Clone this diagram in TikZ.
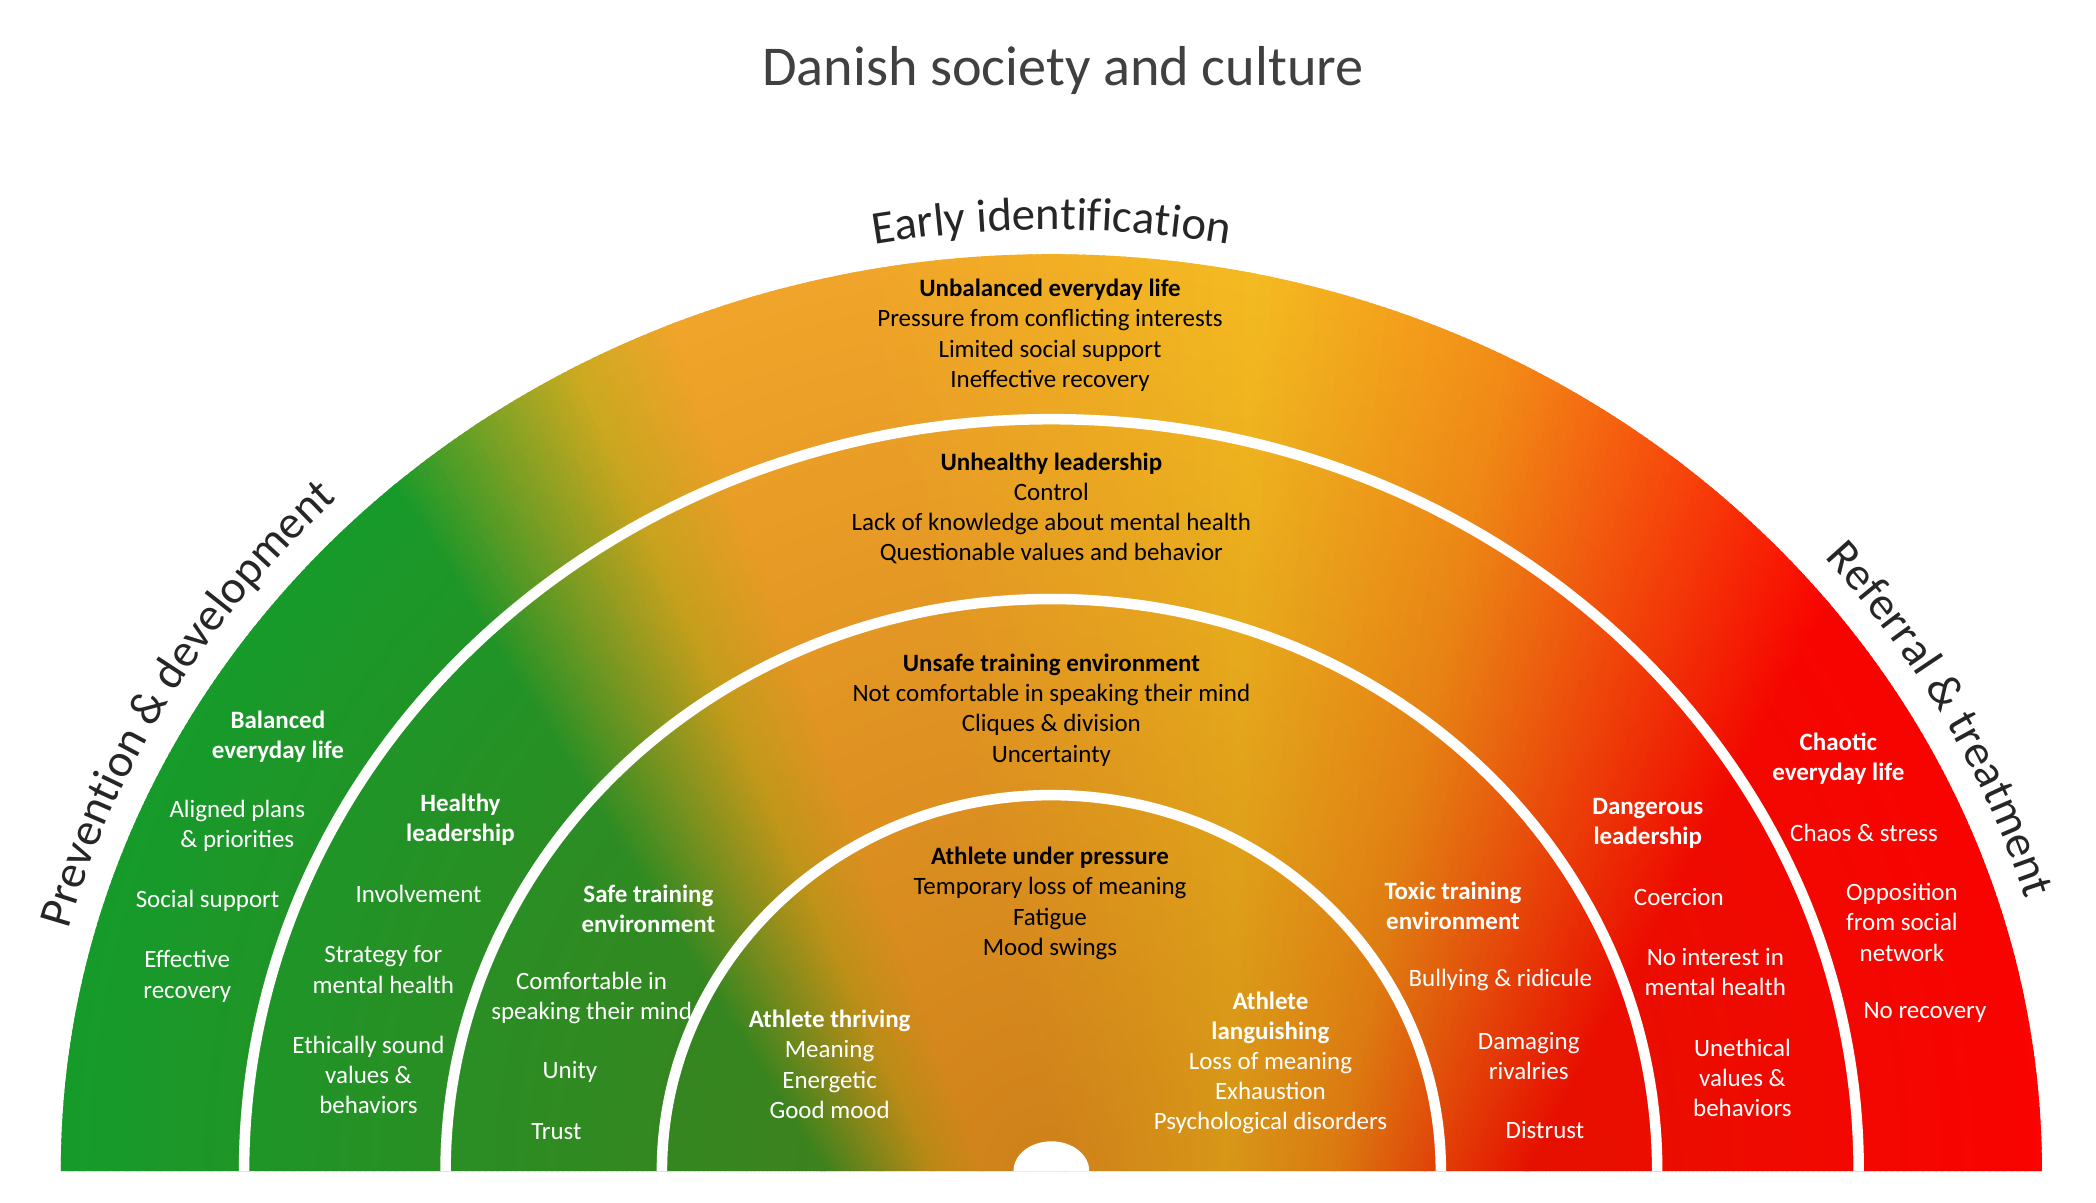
\documentclass[tikz,border=0pt]{standalone}
\usepackage{fontspec}
\setmainfont{Carlito}
\usetikzlibrary{decorations.text, fadings}
\definecolor{cgreen}{RGB}{16,160,45}
\definecolor{cygreen}{RGB}{115,168,40}
\definecolor{cgold}{RGB}{208,178,35}
\definecolor{camber}{RGB}{248,172,45}
\definecolor{cyellow}{RGB}{252,196,36}
\definecolor{corange}{RGB}{250,145,25}
\definecolor{corred}{RGB}{254,70,12}
\definecolor{cred}{RGB}{255,0,0}
\definecolor{cbrown}{RGB}{150,70,0}
\definecolor{titlegray}{RGB}{64,64,64}
\newcommand\curvefont{\fontsize{13.3}{16}\selectfont}
\tikzfading[name=coredark, inner color=transparent!58, outer color=transparent!100]

\begin{document}
\begin{tikzpicture}[x=0.013523cm, y=0.013523cm,
  darktxt/.style={align=center, text=black, font=\fontsize{7.1}{8.6}\selectfont},
  lighttxt/.style={align=center, text=white, font=\fontsize{7.1}{8.6}\selectfont},
  sep/.style={draw=white, line width=3pt},
  curved/.style={decorate, decoration={text along path, text align=center, text color=black!85, text={|\curvefont|#1}}}]
  \useasboundingbox (-777.5,-23.6) rectangle (772.5,866);
  \coordinate (C) at (0,0);
  \coordinate (P) at (114.5,-450);

  \begin{scope}
    \clip (-732.5,0) arc[start angle=180, end angle=0, x radius=732.5, y radius=678] -- cycle;
    \foreach \aa/\ab/\ca/\cb in {30/62/cred/cred, 62/70/cred/corred, 70/78/corred/corange,
        78/88/corange/cyellow, 88/103/cyellow/camber, 103/110/camber/camber,
        110/114/camber/cgold, 114/118/cgold/cygreen, 118/122/cygreen/cgreen, 122/160/cgreen/cgreen}{
      \pgfmathtruncatemacro\n{4*(\ab-\aa)}
      \pgfmathsetmacro\st{(\ab-\aa)/\n}
      \foreach \k in {0,...,\n}{
        \pgfmathsetmacro\p{\k/\n*100}
        \fill[\cb!\p!\ca, shift={(P)}] (0,0) -- (\aa+\k*\st:1400) -- (\aa+\k*\st+\st+0.15:1400) -- cycle;
      }
    }
    \fill[cbrown, path fading=coredark] (C) ellipse[x radius=820, y radius=820];
    \draw[sep] (597,0) arc[start angle=0, end angle=180, x radius=597, y radius=556];
    \draw[sep] (448,0) arc[start angle=0, end angle=180, x radius=448, y radius=423];
    \draw[sep] (288,0) arc[start angle=0, end angle=180, x radius=288, y radius=278];
    \fill[white] (28,0) arc[start angle=0, end angle=180, x radius=28, y radius=22] -- cycle;
  \end{scope}

  \node[font=\fontsize{16}{19}\selectfont, text=titlegray] (title) at (8.5,814) {Danish society and culture};
  \path[curved={Early identification}] (110:750 and 696) arc[start angle=110, end angle=70, x radius=750, y radius=696];
  \path[curved={Prevention {\&} development}] (170:752 and 698) arc[start angle=170, end angle=130, x radius=752, y radius=698];
  \path[curved={Referral {\&} treatment}] (48:752 and 698) arc[start angle=48, end angle=9, x radius=752, y radius=698];

  \node[darktxt] (lifeTop) at (-1,618) {\textbf{Unbalanced everyday life}\\Pressure from conflicting interests\\Limited social support\\Ineffective recovery};
  \node[darktxt] (leadTop) at (0,490) {\textbf{Unhealthy leadership}\\Control\\Lack of knowledge about mental health\\Questionable values and behavior};
  \node[darktxt] (envTop) at (0,341) {\textbf{Unsafe training environment}\\Not comfortable in speaking their mind\\Cliques {\&} division\\Uncertainty};
  \node[darktxt] (athTop) at (-1,198) {\textbf{Athlete under pressure}\\Temporary loss of meaning\\Fatigue\\Mood swings};

  \node[lighttxt] (lifeL1) at (-572,321) {\textbf{Balanced}\\\textbf{everyday life}};
  \node[lighttxt] (lifeL2) at (-602,255) {Aligned plans\\{\&} priorities};
  \node[lighttxt] (lifeL3) at (-624,200) {Social support};
  \node[lighttxt] (lifeL4) at (-639,144) {Effective\\recovery};
  \node[lighttxt] (lifeR1) at (582,305) {\textbf{Chaotic}\\\textbf{everyday life}};
  \node[lighttxt] (lifeR2) at (601,250) {Chaos {\&} stress};
  \node[lighttxt] (lifeR3) at (629,184) {Opposition\\from social\\network};
  \node[lighttxt] (lifeR4) at (646,117) {No recovery};

  \node[lighttxt] (leadL1) at (-437,260) {\textbf{Healthy}\\\textbf{leadership}};
  \node[lighttxt] (leadL2) at (-468,205) {Involvement};
  \node[lighttxt] (leadL3) at (-494,149) {Strategy for\\mental health};
  \node[lighttxt] (leadL4) at (-505,71) {Ethically sound\\values {\&}\\behaviors};
  \node[lighttxt] (leadR1) at (441,257) {\textbf{Dangerous}\\\textbf{leadership}};
  \node[lighttxt] (leadR2) at (464,203) {Coercion};
  \node[lighttxt] (leadR3) at (491,147) {No interest in\\mental health};
  \node[lighttxt] (leadR4) at (511,69) {Unethical\\values {\&}\\behaviors};

  \node[lighttxt] (envL1) at (-298,194) {\textbf{Safe training}\\\textbf{environment}};
  \node[lighttxt] (envL2) at (-340,128) {Comfortable in\\speaking their mind};
  \node[lighttxt] (envL3) at (-356,73) {Unity};
  \node[lighttxt] (envL4) at (-366,29) {Trust};
  \node[lighttxt] (envR1) at (297,196) {\textbf{Toxic training}\\\textbf{environment}};
  \node[lighttxt] (envR2) at (332,141) {Bullying {\&} ridicule};
  \node[lighttxt] (envR3) at (353,85) {Damaging\\rivalries};
  \node[lighttxt] (envR4) at (365,30) {Distrust};

  \node[lighttxt] (athL) at (-164,79) {\textbf{Athlete thriving}\\Meaning\\Energetic\\Good mood};
  \node[lighttxt] (athR) at (162,80) {\textbf{Athlete}\\\textbf{languishing}\\Loss of meaning\\Exhaustion\\Psychological disorders};
\end{tikzpicture}
\end{document}
